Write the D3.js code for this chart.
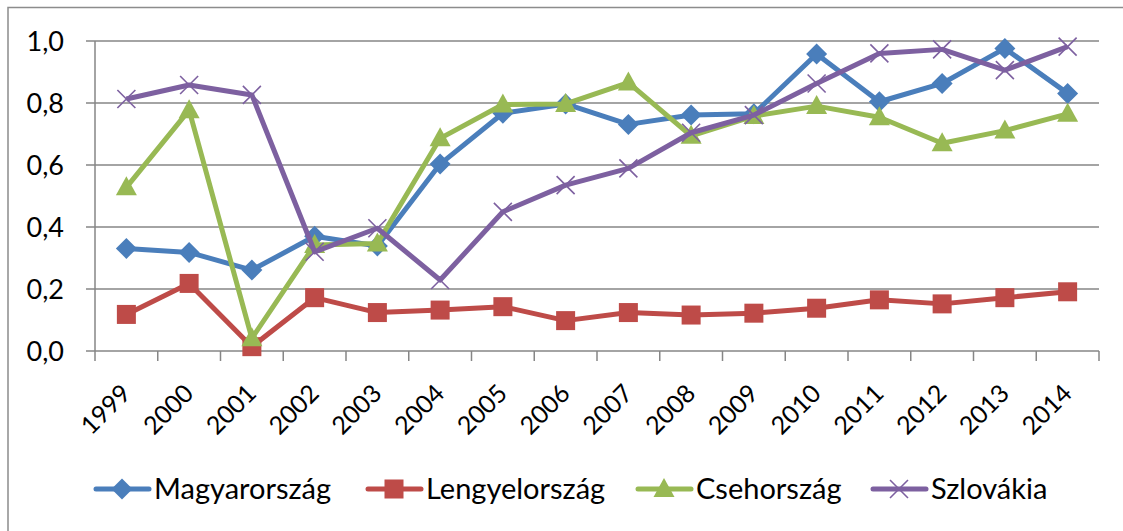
<!DOCTYPE html>
<html>
<head>
<meta charset="utf-8">
<script src="https://cdn.jsdelivr.net/npm/d3@7.9.0/dist/d3.min.js"></script>
<style>
  html, body { margin: 0; padding: 0; background: #fff; }
  svg { display: block; font-family: Lato, 'Noto Sans', sans-serif; }
</style>
</head>
<body>
<svg id="chart" width="1123" height="531"></svg>
<script>
const years = ['1999', '2000', '2001', '2002', '2003', '2004', '2005', '2006',
  '2007', '2008', '2009', '2010', '2011', '2012', '2013', '2014'];
const yTicks = [0, 0.2, 0.4, 0.6, 0.8, 1.0];

const magyarorszag = [0.331, 0.318, 0.261, 0.37, 0.339, 0.603, 0.767, 0.797,
  0.731, 0.761, 0.765, 0.958, 0.804, 0.863, 0.976, 0.831];
const lengyelorszag = [0.118, 0.218, 0.014, 0.172, 0.124, 0.132, 0.143, 0.098,
  0.124, 0.116, 0.122, 0.138, 0.165, 0.152, 0.172, 0.191];
const csehorszag = [0.528, 0.777, 0.041, 0.342, 0.347, 0.686, 0.795, 0.797,
  0.866, 0.694, 0.758, 0.79, 0.754, 0.67, 0.711, 0.765];
const szlovakia = [0.813, 0.858, 0.826, 0.32, 0.396, 0.229, 0.449, 0.535,
  0.589, 0.704, 0.761, 0.863, 0.96, 0.973, 0.906, 0.982];

const series = [
  { name: 'Magyarország', values: magyarorszag, color: '#4a7ebb', marker: 'diamond' },
  { name: 'Lengyelország', values: lengyelorszag, color: '#be4b48', marker: 'square' },
  { name: 'Csehország', values: csehorszag, color: '#98b954', marker: 'triangle' },
  { name: 'Szlovákia', values: szlovakia, color: '#7d60a0', marker: 'cross' },
];

const plot = { left: 95, right: 1099, top: 41, bottom: 351 };

const svg = d3.select('#chart');

// chart frame (only top and left edges fall inside the picture)
svg.append('rect')
  .attr('x', 8).attr('y', 7.5)
  .attr('width', 1140).attr('height', 540)
  .attr('fill', '#fff')
  .attr('stroke', '#8c8c8c')
  .attr('stroke-width', 1.5);

const x = d3.scaleBand().domain(years).range([plot.left, plot.right]);
const y = d3.scaleLinear().domain([0, 1]).range([plot.bottom, plot.top]);
const cx = (d) => x(d) + x.bandwidth() / 2;

const gridColor = '#868686';

// horizontal gridlines
svg.append('g')
  .selectAll('line')
  .data(yTicks)
  .join('line')
  .attr('x1', plot.left - 9)
  .attr('x2', plot.right)
  .attr('y1', (d) => y(d))
  .attr('y2', (d) => y(d))
  .attr('stroke', gridColor)
  .attr('stroke-width', 1.5);

// vertical axis line
svg.append('line')
  .attr('x1', plot.left).attr('x2', plot.left)
  .attr('y1', plot.top).attr('y2', plot.bottom)
  .attr('stroke', gridColor)
  .attr('stroke-width', 1.5);

// x tick marks at band boundaries
const boundaries = years.map((d) => x(d)).concat([plot.right]);
svg.append('g')
  .selectAll('line')
  .data(boundaries)
  .join('line')
  .attr('x1', (d) => d).attr('x2', (d) => d)
  .attr('y1', plot.bottom).attr('y2', plot.bottom + 10)
  .attr('stroke', gridColor)
  .attr('stroke-width', 1.5);

// y labels
svg.append('g')
  .selectAll('text')
  .data(yTicks)
  .join('text')
  .attr('x', plot.left - 31)
  .attr('y', (d) => y(d))
  .attr('dy', '0.36em')
  .attr('text-anchor', 'end')
  .attr('font-size', 27)
  .attr('fill', '#000')
  .text((d) => d3.format('.1f')(d).replace('.', ','));

// x labels, rotated
svg.append('g')
  .selectAll('text')
  .data(years)
  .join('text')
  .attr('transform', (d) => `translate(${cx(d) + 6},${plot.bottom + 44}) rotate(-45)`)
  .attr('text-anchor', 'end')
  .attr('font-size', 25)
  .attr('fill', '#000')
  .text((d) => d);

function drawMarker(g, type, color) {
  if (type === 'diamond') {
    g.append('path')
      .attr('d', 'M0,-10.5L10.5,0L0,10.5L-10.5,0Z')
      .attr('fill', color);
  } else if (type === 'square') {
    g.append('rect')
      .attr('x', -9.5).attr('y', -9.5)
      .attr('width', 19).attr('height', 19)
      .attr('fill', color);
  } else if (type === 'triangle') {
    g.append('path')
      .attr('d', 'M0,-11L10.5,8L-10.5,8Z')
      .attr('fill', color);
  } else {
    g.append('path')
      .attr('d', 'M-9,-9L9,9M9,-9L-9,9')
      .attr('stroke', color)
      .attr('stroke-width', 1.6)
      .attr('fill', 'none');
  }
}

const line = d3.line()
  .x((d, i) => cx(years[i]))
  .y((d) => y(d));

series.forEach((s) => {
  const g = svg.append('g');
  g.append('path')
    .datum(s.values)
    .attr('d', line)
    .attr('fill', 'none')
    .attr('stroke', s.color)
    .attr('stroke-width', 5)
    .attr('stroke-linejoin', 'round');

  g.selectAll('g.marker')
    .data(s.values)
    .join('g')
    .attr('class', 'marker')
    .attr('transform', (d, i) => `translate(${cx(years[i])},${y(d)})`)
    .each(function () {
      drawMarker(d3.select(this), s.marker, s.color);
    });
});

// legend
const legendX = [94, 366, 636, 871];
const legend = svg.append('g')
  .selectAll('g')
  .data(series)
  .join('g')
  .attr('transform', (d, i) => `translate(${legendX[i]},489)`);

legend.append('line')
  .attr('x1', 2).attr('x2', 55)
  .attr('stroke', (d) => d.color)
  .attr('stroke-width', 5)
  .attr('stroke-linecap', 'round');

legend.each(function (d) {
  const m = d3.select(this).append('g').attr('transform', 'translate(28,0)');
  drawMarker(m, d.marker, d.color);
});

legend.append('text')
  .attr('x', 60)
  .attr('y', 10)
  .attr('font-size', 29)
  .attr('fill', '#000')
  .text((d) => d.name);
</script>
</body>
</html>
